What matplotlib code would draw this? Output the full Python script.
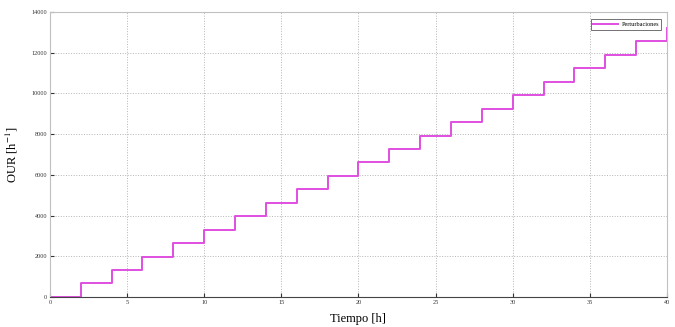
import matplotlib
matplotlib.use("Agg")
import matplotlib.pyplot as plt

# OUR step profile, one level every 2 h
tiempo = [0, 2, 4, 6, 8, 10, 12, 14, 16, 18, 20, 22, 24, 26, 28, 30, 32, 34, 36, 38, 40]
our = [0, 680, 1330, 1980, 2650, 3310, 3960, 4620, 5290, 5950, 6610,
       7270, 7930, 8590, 9250, 9910, 10570, 11230, 11890, 12560, 13220]

x_ticks = [0, 5, 10, 15, 20, 25, 30, 35, 40]
y_ticks = [0, 2000, 4000, 6000, 8000, 10000, 12000, 14000]

plt.rcParams["font.family"] = ["Liberation Serif", "DejaVu Serif"]
plt.rcParams["mathtext.fontset"] = "stix"

fig = plt.figure(figsize=(6.75, 3.27), dpi=100)
ax = fig.add_axes([0.074, 0.092, 0.914, 0.871])

ax.plot(tiempo, our, drawstyle="steps-post", color="#e04ee0", lw=1.4,
        label="Perturbaciones")

ax.set_xlim(0, 40)
ax.set_ylim(0, 14000)
ax.set_xticks(x_ticks)
ax.set_yticks(y_ticks)
ax.tick_params(direction="in", length=3, width=0.8, labelsize=4.5,
               colors="#333333", pad=2)

ax.grid(True, linestyle=":", color="#b5b5b5", linewidth=0.7)

for side in ["top", "right", "left"]:
    ax.spines[side].set_color("#c0c0c0")
ax.spines["bottom"].set_color("#444444")

ax.set_xlabel("Tiempo [h]", fontsize=9, labelpad=6)
ax.set_ylabel("OUR [h$^{-1}$]", fontsize=9, labelpad=8)

leg = ax.legend(loc="upper right", fontsize=4.5, frameon=True, fancybox=False,
                handlelength=4, handletextpad=0.5, borderpad=0.4,
                bbox_to_anchor=(0.996, 0.985))
leg.get_frame().set_edgecolor("#333333")
leg.get_frame().set_linewidth(0.6)

fig.savefig("out.png", dpi=100)
